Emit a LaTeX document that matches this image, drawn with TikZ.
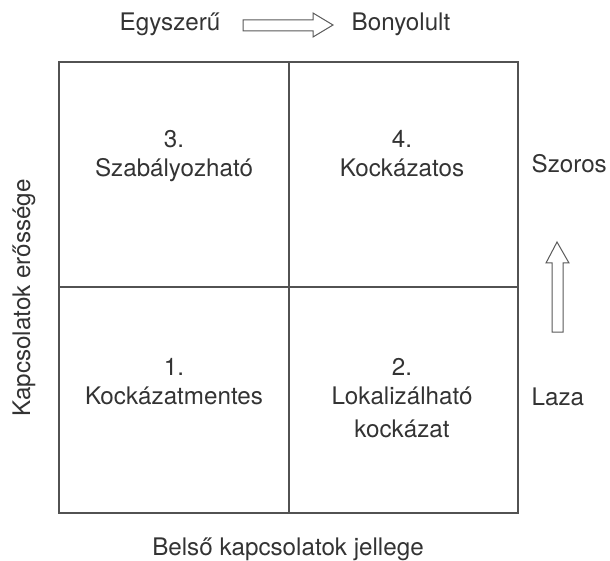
\documentclass[tikz,border=0pt]{standalone}
\usepackage{fontspec}
\setmainfont{TeX Gyre Heros}
\begin{document}
\begin{tikzpicture}[x=1pt,y=-1pt,
  lbl/.style={inner sep=0pt,anchor=base,text=black!80,font=\fontsize{24.2}{28}\selectfont},
  grid/.style={draw=black!68,line width=1.3pt},
  blockarrow/.style={draw=black!65,line width=1pt,fill=white,line join=miter}]
\useasboundingbox (0,0) rectangle (610,561);
% matrix frame
\draw[grid] (59,62) rectangle (518,513);
\draw[grid] (289,62) -- (289,513);
\draw[grid] (59,287) -- (518,287);
% quadrant texts
\node[lbl] (q3n) at (174,148) {3.};
\node[lbl] (q3t) at (174,177) {Szabályozható};
\node[lbl] (q4n) at (402,148) {4.};
\node[lbl] (q4t) at (402,177) {Kockázatos};
\node[lbl] (q1n) at (174,375) {1.};
\node[lbl] (q1t) at (174,404) {Kockázatmentes};
\node[lbl] (q2n) at (402,375) {2.};
\node[lbl] (q2t) at (402,404) {Lokalizálható};
\node[lbl] (q2u) at (402,437) {kockázat};
% top axis
\node[lbl] (simple) at (170,31) {Egyszerű};
\node[lbl] (complex) at (401,31) {Bonyolult};
\draw[blockarrow] (243,20) -- (313,20) -- (313,13) -- (333,25) -- (313,37) -- (313,31) -- (243,31) -- cycle;
% right axis
\node[lbl,anchor=base east] (tight) at (607,173) {Szoros};
\node[lbl,anchor=base west] (loose) at (tight.base west |- 0,405) {Laza};
\draw[blockarrow] (552,332) -- (552,263) -- (546,263) -- (557,242) -- (569,263) -- (563,263) -- (563,332) -- cycle;
% axis titles
\node[lbl,rotate=90] (ytitle) at (30,298) {Kapcsolatok erőssége};
\node[lbl] (xtitle) at (288,555) {Belső kapcsolatok jellege};
\end{tikzpicture}
\end{document}
